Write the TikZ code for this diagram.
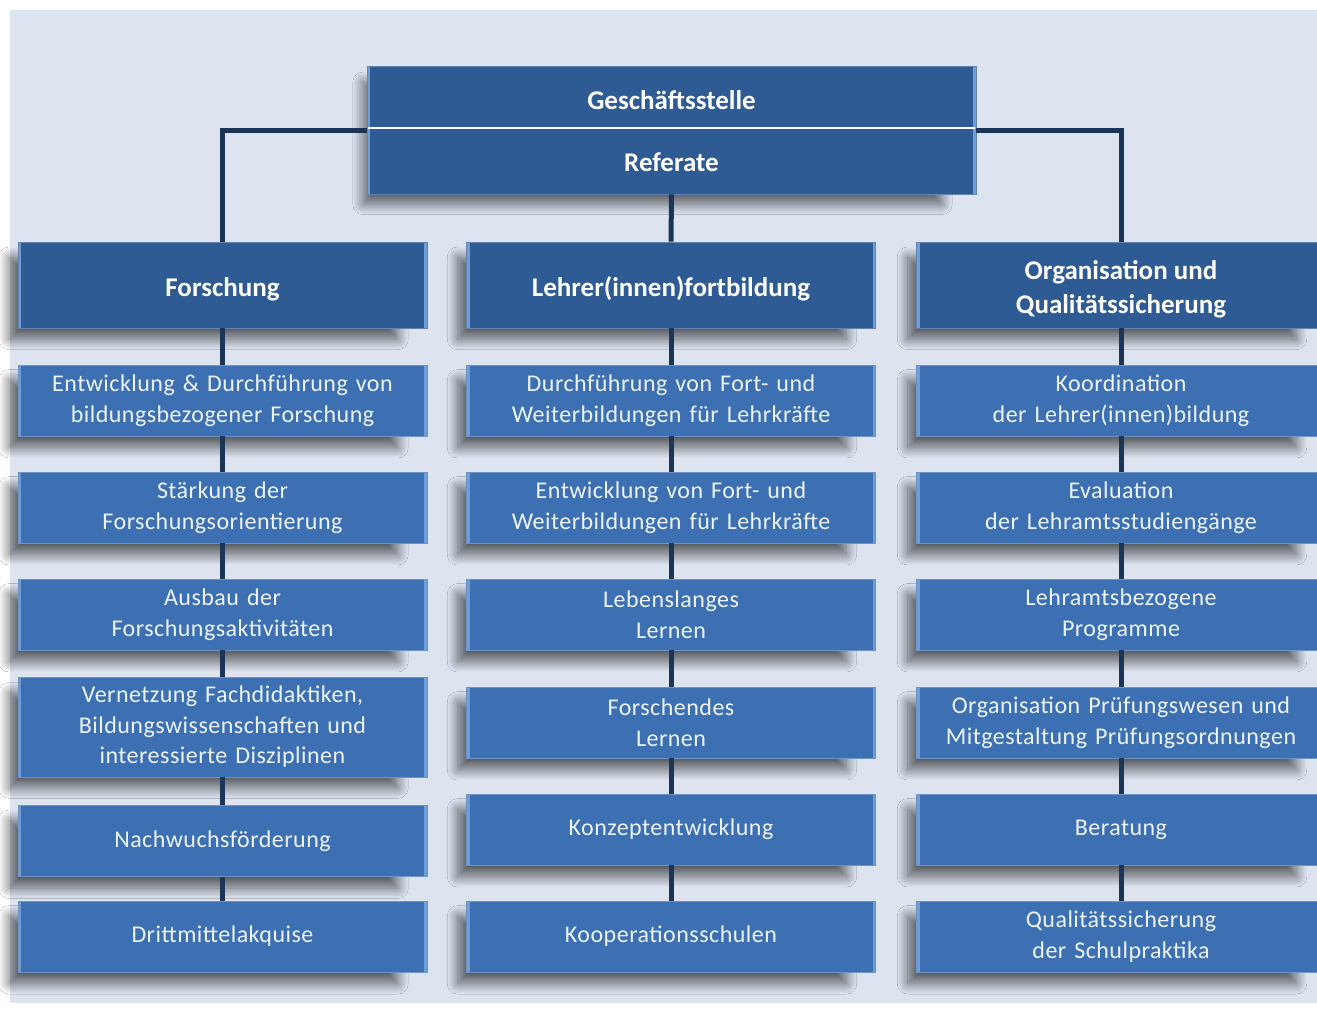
\documentclass[tikz,border=0pt]{standalone}
\usepackage{fontspec}
\setmainfont{Carlito}
\newfontfamily\itemfont{Carlito}[LetterSpace=2.0, WordSpace=1.35]
\usetikzlibrary{shadows.blur}
\definecolor{bgpanel}{HTML}{DDE4F0}
\definecolor{headfill}{HTML}{2E5B93}
\definecolor{itemfill}{HTML}{3D70B2}
\definecolor{connline}{HTML}{1B3556}
\definecolor{edgelight}{HTML}{6E9DDB}
\definecolor{itemtext}{HTML}{EEF3FA}
\tikzset{
  boxbase/.style={rectangle, inner sep=0pt, align=center, minimum width=409pt,
    blur shadow={shadow xshift=-20pt, shadow yshift=-14pt, shadow scale=0.95,
      shadow blur radius=11pt, shadow opacity=60, shadow blur steps=30},
    path picture={
      \fill[edgelight] (path picture bounding box.north west) rectangle ([xshift=3pt]path picture bounding box.south west);
      \fill[edgelight] (path picture bounding box.north east) rectangle ([xshift=-3pt]path picture bounding box.south east);}},
  headbox/.style={boxbase, fill=headfill, draw=headfill!75!white, line width=0.8pt,
    minimum height=86pt},
  headtext/.style={text=white, font=\bfseries\fontsize{27}{34}\selectfont, align=center,
    inner sep=0pt, yshift=-4pt},
  itembox/.style={boxbase, fill=itemfill, draw=itemfill!75!white, line width=0.8pt,
    text=itemtext, font=\itemfont\fontsize{24}{30.5}\selectfont, minimum height=71pt},
  conn/.style={draw=connline, line width=5pt},
  toplabel/.style={text=white, font=\bfseries\fontsize{27}{34}\selectfont, inner sep=0pt},
}
\begin{document}
\begin{tikzpicture}[x=1pt, y=-1pt]
\useasboundingbox (0,0) rectangle (1317,1009);
\fill[white] (0,0) rectangle (1317,1009);
\fill[bgpanel] (10,10) rectangle (1317,1003);

% top box
\node[boxbase, fill=headfill, draw=headfill!75!white, line width=0.8pt,
  minimum width=609pt, minimum height=128pt] (top) at (671.5,130) {};
\draw[white, line width=2pt] (368,128) -- (975,128);
\node[toplabel] (gs) at (671.5,100) {Geschäftsstelle};
\node[toplabel] (ref) at (671.5,162) {Referate};

% headers
\node[headbox, label={[headtext]center:Forschung}] (h1) at (222.5,285) {};
\node[headbox, label={[headtext]center:Lehrer(innen)fortbildung}] (h2) at (671,285) {};
\node[headbox, label={[headtext]center:{Organisation und\\Qualitätssicherung}}] (h3) at (1121,285) {};

% left column
\node[itembox] (a1) at (222.5,400.5) {Entwicklung \& Durchführung von\\bildungsbezogener Forschung};
\node[itembox] (a2) at (222.5,507.5) {Stärkung der\\Forschungsorientierung};
\node[itembox] (a3) at (222.5,614.5) {Ausbau der\\Forschungsaktivitäten};
\node[itembox, minimum height=100pt] (a4) at (222.5,727) {Vernetzung Fachdidaktiken,\\Bildungswissenschaften und\\interessierte Disziplinen};
\node[itembox] (a5) at (222.5,841) {Nachwuchsförderung};
\node[itembox] (a6) at (222.5,936.5) {Drittmittelakquise};

% middle column
\node[itembox] (b1) at (671,400.5) {Durchführung von Fort- und\\Weiterbildungen für Lehrkräfte};
\node[itembox] (b2) at (671,507.5) {Entwicklung von Fort- und\\Weiterbildungen für Lehrkräfte};
\node[itembox] (b3) at (671,614.5) {Lebenslanges\\Lernen};
\node[itembox] (b4) at (671,722.5) {Forschendes\\Lernen};
\node[itembox] (b5) at (671,829.5) {Konzeptentwicklung};
\node[itembox] (b6) at (671,936.5) {Kooperationsschulen};

% right column
\node[itembox] (c1) at (1121,400.5) {Koordination\\der Lehrer(innen)bildung};
\node[itembox] (c2) at (1121,507.5) {Evaluation\\der Lehramtsstudiengänge};
\node[itembox] (c3) at (1121,614.5) {Lehramtsbezogene\\Programme};
\node[itembox] (c4) at (1121,722.5) {Organisation Prüfungswesen und\\Mitgestaltung Prüfungsordnungen};
\node[itembox] (c5) at (1121,829.5) {Beratung};
\node[itembox] (c6) at (1121,936.5) {Qualitätssicherung\\der Schulpraktika};

% connectors
\draw[conn] (top.west) -| (h1.north);
\draw[conn] (top.east) -| (h3.north);
\draw[conn] (top.south) -- (h2.north);
\draw[conn] (h1.south) -- (a1.north);
\draw[conn] (a1.south) -- (a2.north);
\draw[conn] (a2.south) -- (a3.north);
\draw[conn] (a3.south) -- (a4.north);
\draw[conn] (a4.south) -- (a5.north);
\draw[conn] (a5.south) -- (a6.north);
\draw[conn] (h2.south) -- (b1.north);
\draw[conn] (b1.south) -- (b2.north);
\draw[conn] (b2.south) -- (b3.north);
\draw[conn] (b3.south) -- (b4.north);
\draw[conn] (b4.south) -- (b5.north);
\draw[conn] (b5.south) -- (b6.north);
\draw[conn] (h3.south) -- (c1.north);
\draw[conn] (c1.south) -- (c2.north);
\draw[conn] (c2.south) -- (c3.north);
\draw[conn] (c3.south) -- (c4.north);
\draw[conn] (c4.south) -- (c5.north);
\draw[conn] (c5.south) -- (c6.north);
\end{tikzpicture}
\end{document}
